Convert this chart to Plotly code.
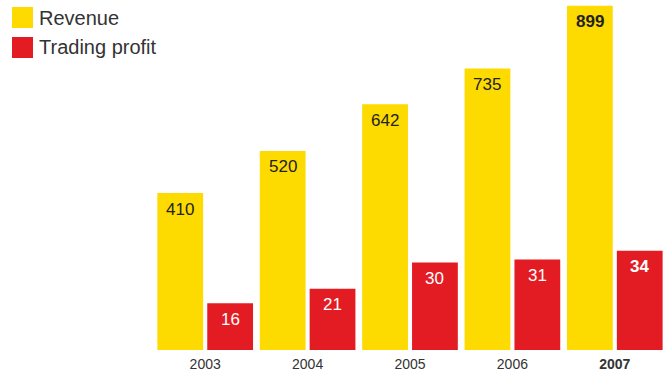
import plotly.graph_objects as go

# Figures per financial year
years = ["2003", "2004", "2005", "2006", "2007"]
revenue = [410, 520, 642, 735, 899]
trading_profit = [16, 21, 30, 31, 34]
tick_labels = ["2003", "2004", "2005", "2006", "<b>2007</b>"]

YELLOW = "#FDDA00"
RED = "#E31B23"
TEXT = "#333333"
FONT = "Liberation Sans, Arial, sans-serif"

W, H = 666, 374
ML, MR, MT, MB = 154, 0, 0, 24
PW, PH = W - ML - MR, H - MT - MB

fig = go.Figure()

fig.add_trace(go.Bar(
    x=years, y=revenue, name="Revenue",
    marker=dict(color=YELLOW, line=dict(width=0)),
    width=0.447, offset=-0.467, yaxis="y",
    hoverinfo="x+y",
))
fig.add_trace(go.Bar(
    x=years, y=trading_profit, name="Trading profit",
    marker=dict(color=RED, line=dict(width=0)),
    width=0.447, offset=0.02, yaxis="y2",
    hoverinfo="x+y",
))

annotations = []
# value labels inside the top of each bar; the latest year is emphasised
for i, (yr, rv, tp) in enumerate(zip(years, revenue, trading_profit)):
    bold = i == len(years) - 1
    rv_txt = f"<b>{rv}</b>" if bold else str(rv)
    tp_txt = f"<b>{tp}</b>" if bold else str(tp)
    annotations.append(dict(
        x=i - 0.467 + 0.447 / 2, y=rv, xref="x", yref="y",
        text=rv_txt, showarrow=False, yshift=-16, yanchor="middle",
        font=dict(family=FONT, size=17, color="#222222"),
    ))
    annotations.append(dict(
        x=i + 0.02 + 0.447 / 2, y=tp, xref="x", yref="y2",
        text=tp_txt, showarrow=False, yshift=-16, yanchor="middle",
        font=dict(family=FONT, size=17, color="#FFFFFF"),
    ))


def px_x(px):
    return (px - ML) / PW


def px_y(py):
    return (H - MB - py) / PH


# legend: coloured squares with labels in the top-left corner
legend_items = [("Revenue", YELLOW, 7), ("Trading profit", RED, 37)]
shapes = []
for label, color, top in legend_items:
    shapes.append(dict(
        type="rect", xref="paper", yref="paper",
        x0=px_x(12), x1=px_x(33), y0=px_y(top + 21), y1=px_y(top),
        fillcolor=color, line=dict(width=0), layer="above",
    ))
    annotations.append(dict(
        x=px_x(37), y=px_y(top + 10.5), xref="paper", yref="paper",
        text=label, showarrow=False, xanchor="left", yanchor="middle",
        font=dict(family=FONT, size=20, color=TEXT),
    ))

fig.update_layout(
    width=W, height=H,
    margin=dict(l=ML, r=MR, t=MT, b=MB, pad=0),
    paper_bgcolor="white", plot_bgcolor="white",
    showlegend=False,
    barmode="overlay",
    xaxis=dict(
        type="category", range=[-0.5, 4.5],
        tickvals=years, ticktext=tick_labels,
        tickfont=dict(family=FONT, size=14, color=TEXT),
        showgrid=False, zeroline=False, showline=False, ticks="",
        ticklabelstandoff=4,
    ),
    yaxis=dict(range=[0, 914], visible=False, showgrid=False),
    yaxis2=dict(range=[0, 120], overlaying="y", visible=False, showgrid=False),
    shapes=shapes,
    annotations=annotations,
)

fig.write_html("out.html")
